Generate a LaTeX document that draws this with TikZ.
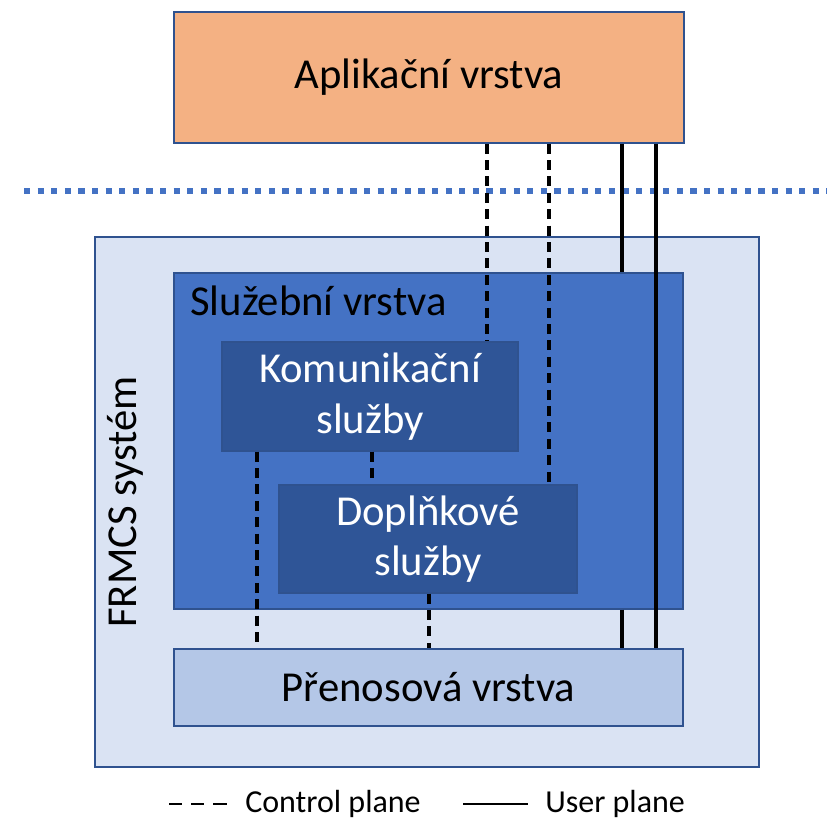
\documentclass[tikz,border=0pt]{standalone}
\usepackage{fontspec}
\setmainfont{Carlito}
\usetikzlibrary{positioning}
\definecolor{appfill}{HTML}{F4B183}
\definecolor{edge}{HTML}{2F528F}
\definecolor{sysfill}{HTML}{DAE3F3}
\definecolor{srvfill}{HTML}{4472C4}
\definecolor{subfill}{HTML}{2F5597}
\definecolor{netfill}{HTML}{B4C7E7}
\definecolor{split}{HTML}{4472C4}
\tikzset{
  % ---- layers ----------------------------------------------------
  layer/.style    = {rectangle, draw=edge, line width=1pt, inner sep=0pt,
                     font=\fontsize{32}{38}\selectfont, align=center},
  applayer/.style = {layer, fill=appfill},
  sysbox/.style   = {layer, fill=sysfill},
  srvbox/.style   = {layer, fill=srvfill},
  subbox/.style   = {layer, fill=subfill, text=white},
  netlayer/.style = {layer, fill=netfill},
  boxtag/.style   = {font=\fontsize{32}{38}\selectfont, inner sep=0pt},
  % ---- planes ----------------------------------------------------
  cplane/.style   = {draw=black, line width=2.3pt,
                     dash pattern=on 7.5pt off 4.8pt},
  uplane/.style   = {draw=black, line width=2.3pt},
  border/.style   = {draw=split, line width=4.5pt,
                     dash pattern=on 4.6pt off 5.6pt},
  legtext/.style  = {font=\fontsize{24}{29}\selectfont, anchor=base west,
                     inner sep=0pt},
}

\begin{document}
\begin{tikzpicture}[x=0.75pt,y=-0.75pt]
  \useasboundingbox (0,0) rectangle (827,819);
  % application side
  \node[applayer, minimum width=382.5pt, minimum height=98.25pt] (app) at (429,77.5) {Aplikační vrstva};
  \coordinate (bl) at (24,191);
  \coordinate (br) at (827,191);
  \draw[border] (bl) -- (br);
  % FRMCS system
  \node[sysbox, minimum width=498pt, minimum height=397.5pt] (frmcs) at (427,502) {};
  \node[boxtag, rotate=90] (frmcstag) at (125,502) {FRMCS systém};
  \node[srvbox, minimum width=381.75pt, minimum height=252pt] (srv) at (428.5,441) {};
  \node[boxtag, anchor=base west] (srvtag) at (190,315) {Služební vrstva};
  \node[subbox, minimum width=222pt, minimum height=81.75pt] (kom) at (370,396.5) {Komunikační\\služby};
  \node[subbox, minimum width=223.5pt, minimum height=81pt] (dop) at (428,539) {Doplňkové\\služby};
  \node[netlayer, minimum width=381.75pt, minimum height=57.75pt] (net) at (428.5,687.5) {Přenosová vrstva};
  % x positions of the links
  \coordinate (xa) at (487,0);
  \coordinate (xb) at (549,0);
  \coordinate (xc) at (622,0);
  \coordinate (xd) at (656,0);
  \coordinate (xe) at (257,0);
  \coordinate (xf) at (372,0);
  \coordinate (xg) at (429,0);
  \draw[cplane] (app.south -| xa) -- (kom.north -| xa);
  \draw[cplane] (app.south -| xb) -- (dop.north -| xb);
  \draw[uplane] (app.south -| xc) -- (srv.north -| xc);
  \draw[uplane] (app.south -| xd) -- (net.north -| xd);
  \draw[uplane] (srv.south -| xc) -- (net.north -| xc);
  \draw[cplane] (kom.south -| xe) -- (net.north -| xe);
  \draw[cplane] (kom.south -| xf) -- (dop.north -| xf);
  \draw[cplane] (dop.south -| xg) -- (net.north -| xg);
  % legend
  \coordinate (ca) at (169,804);
  \coordinate (cb) at (227,804);
  \coordinate (ua) at (463,804);
  \coordinate (ub) at (528,804);
  \draw[cplane, line width=1.7pt, dash pattern=on 10pt off 6.6pt] (ca) -- (cb);
  \draw[uplane, line width=1.7pt] (ua) -- (ub);
  \node[legtext] (ctext) at (245,812) {Control plane};
  \node[legtext] (utext) at (545,812) {User plane};
\end{tikzpicture}
\end{document}
